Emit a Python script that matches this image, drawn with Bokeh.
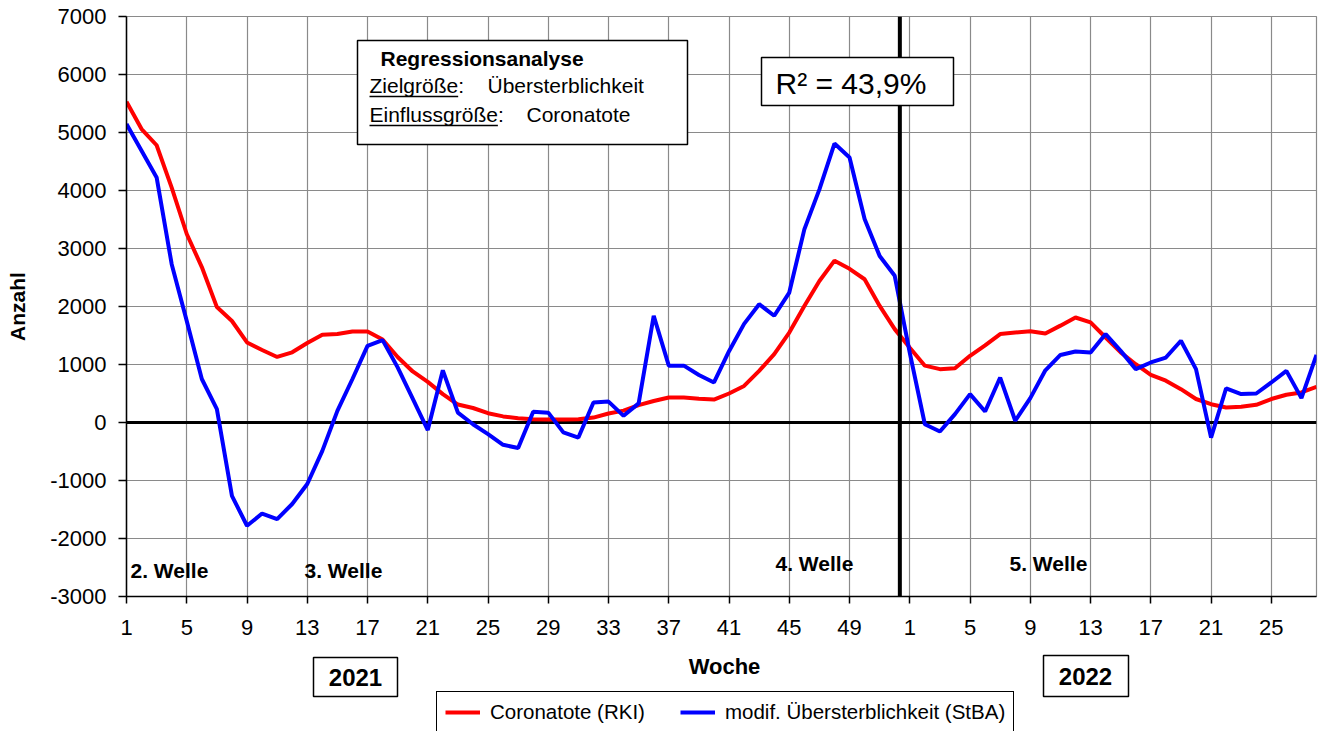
from bokeh.plotting import figure
from bokeh.layouts import column
from bokeh.models import (Range1d, FixedTicker, Span, Label, BoxAnnotation,
                          Legend, LegendItem)
from bokeh.embed import file_html
from bokeh.resources import INLINE

# ---------------- data ----------------
weeks_2021 = list(range(1, 53))
weeks_2022 = list(range(1, 29))
week_labels = [str(w) for w in weeks_2021 + weeks_2022]
index = list(range(1, len(week_labels) + 1))

coronatote = [
    5530, 5060, 4780, 4050, 3250, 2680, 1990, 1750, 1380, 1250,
    1130, 1210, 1370, 1515, 1525, 1570, 1570, 1430, 1130, 880,
    700, 490, 310, 250, 160, 105, 75, 55, 50, 50,
    58, 85, 155, 205, 300, 370, 430, 430, 410, 395,
    500, 630, 890, 1180, 1550, 2010, 2440, 2790, 2650, 2470,
    2010, 1610,
    1290, 980, 920, 935, 1150, 1330, 1525, 1550, 1575, 1535,
    1670, 1810, 1725, 1465, 1210, 1005, 820, 720, 575, 405,
    315, 260, 270, 305, 405, 478, 518, 615,
]
uebersterblichkeit = [
    5145, 4685, 4225, 2730, 1750, 750, 230, -1265, -1780, -1570,
    -1665, -1405, -1060, -490, 200, 750, 1320, 1420, 950, 410,
    -130, 900, 170, -30, -200, -385, -440, 185, 170, -170,
    -260, 345, 360, 115, 330, 1840, 980, 980, 820, 690,
    1230, 1700, 2040, 1840, 2240, 3330, 4020, 4810, 4570, 3510,
    2870, 2530,
    1200, -30, -155, 145, 490, 190, 775, 30, 420, 900,
    1165, 1225, 1205, 1525, 1235, 920, 1035, 1120, 1410, 920,
    -260, 590, 490, 500, 690, 890, 420, 1165,
]
y_ticks = list(range(-3000, 7001, 1000))
y_tick_labels = [str(v) for v in y_ticks]
x_tick_idx = [i for i, w in zip(index, week_labels) if (int(w) - 1) % 4 == 0]
year_divider = 52.34

series_names = ["Coronatote (RKI)", "modif. Übersterblichkeit (StBA)"]
wave_labels = ["2.  Welle", "3.  Welle", "4.  Welle", "5.  Welle"]
year_labels = ["2021", "2022"]

FONT = "Liberation Sans"
RED = "#ff0000"
BLUE = "#0000ff"
GRID = "#8a8a8a"

# ---------------- main figure ----------------
W = 1318
H1 = 648
FL, FT, FR, FB = 126, 16, 1316, 596  # frame edges in page px

p = figure(width=W, height=H1, x_range=Range1d(1, 80), y_range=Range1d(-3000, 7000),
           output_backend="svg", toolbar_location=None,
           min_border_left=FL, min_border_right=W - FR, min_border_top=FT,
           min_border_bottom=H1 - FB)
p.title.visible = False
p.background_fill_color = "white"
p.border_fill_color = "white"
p.outline_line_color = GRID
p.outline_line_width = 1.2

p.xaxis.ticker = FixedTicker(ticks=x_tick_idx)
p.xaxis.major_label_overrides = {i: week_labels[i - 1] for i in x_tick_idx}
p.yaxis.ticker = FixedTicker(ticks=y_ticks)
p.yaxis.major_label_overrides = {v: s for v, s in zip(y_ticks, y_tick_labels)}
for ax in (p.xaxis[0], p.yaxis[0]):
    ax.axis_line_color = "black"
    ax.axis_line_width = 1.5
    ax.major_tick_line_color = "black"
    ax.major_tick_line_width = 1.5
    ax.major_tick_in = 0
    ax.minor_tick_line_color = None
    ax.major_label_text_font = FONT
    ax.major_label_text_font_size = "22px"
    ax.major_label_text_color = "black"
    ax.axis_label_text_font = FONT
    ax.axis_label_text_font_style = "bold"
    ax.axis_label_text_color = "black"
p.xaxis.major_tick_out = 7
p.xaxis.major_label_standoff = 16
p.yaxis.major_tick_out = 8
p.yaxis.major_label_standoff = 12
p.yaxis.axis_label = "Anzahl"
p.yaxis.axis_label_text_font_size = "21px"
p.yaxis.axis_label_standoff = 18

p.xgrid.grid_line_color = GRID
p.xgrid.grid_line_width = 1.2
p.ygrid.grid_line_color = GRID
p.ygrid.grid_line_width = 1.2

p.add_layout(Span(location=0, dimension="width", line_color="black", line_width=3, level="underlay"))

p.line(index, coronatote, line_color=RED, line_width=4)
p.line(index, uebersterblichkeit, line_color=BLUE, line_width=4)

p.add_layout(Span(location=year_divider, dimension="height", line_color="black", line_width=4))


def sx(px):
    return px - FL


def sy(py):
    return FB - py


def box(fig, l, t, r, b, units, lw=1.5):
    fig.add_layout(BoxAnnotation(left=l, right=r, top=t, bottom=b,
                                 left_units=units, right_units=units,
                                 top_units=units, bottom_units=units,
                                 fill_color="white", fill_alpha=1.0,
                                 line_color="black", line_width=lw, line_alpha=1.0))


def label(fig, text, x, y, size, units, bold=False, align="left"):
    fig.add_layout(Label(x=x, y=y, x_units=units, y_units=units,
                         text=text, text_font=FONT, text_font_size=size,
                         text_font_style="bold" if bold else "normal",
                         text_color="black", text_baseline="middle", text_align=align))


def underline(px0, px1, py):
    p.add_layout(BoxAnnotation(left=sx(px0), right=sx(px1), top=sy(py) + 0.8, bottom=sy(py) - 0.8,
                               left_units="screen", right_units="screen",
                               top_units="screen", bottom_units="screen",
                               fill_color="black", fill_alpha=1.0, line_color=None))


S = "screen"
# Regression box
box(p, sx(357), sy(40), sx(687), sy(144), S)
label(p, "Regressionsanalyse", sx(380), sy(58), "21px", S, bold=True)
label(p, "Zielgröße:", sx(369), sy(85), "21px", S)
underline(369, 369 + 4.223 * 21, 96)
label(p, "Übersterblichkeit", sx(487), sy(85), "21px", S)
label(p, "Einflussgröße:", sx(369), sy(114), "21px", S)
underline(369, 369 + 6.113 * 21, 125)
label(p, "Coronatote", sx(526), sy(114), "21px", S)

# R² box
box(p, sx(761), sy(57), sx(953), sy(105), S)
label(p, "R² = 43,9%", sx(775), sy(83), "30px", S)

# wave labels
label(p, wave_labels[0], sx(130), sy(570), "21px", S, bold=True)
label(p, wave_labels[1], sx(304), sy(570), "21px", S, bold=True)
label(p, wave_labels[2], sx(775), sy(563), "21px", S, bold=True)
label(p, wave_labels[3], sx(1009), sy(563), "21px", S, bold=True)

# ---------------- bottom strip (axis title, year boxes, legend) ----------------
# its frame is aligned with the main frame (page x 126..1316), so data x == page x
H2 = 731 - H1
q = figure(width=W, height=H2, x_range=Range1d(FL, FR), y_range=Range1d(731, H1),
           output_backend="svg", toolbar_location=None,
           x_axis_location=None, y_axis_location=None,
           min_border_left=FL, min_border_right=W - FR, min_border_top=0, min_border_bottom=0)
q.title.visible = False
q.outline_line_color = None
q.xgrid.visible = False
q.ygrid.visible = False
q.background_fill_color = "white"
q.border_fill_color = "white"

D = "data"
label(q, "Woche", 724, 666, "22px", D, bold=True, align="center")

box(q, 313, 657, 397, 696, D)
label(q, year_labels[0], 355, 677, "24px", D, bold=True, align="center")
box(q, 1043, 655, 1128, 696, D)
label(q, year_labels[1], 1085, 676, "24px", D, bold=True, align="center")

nan = float("nan")
leg_red = q.line(x=[nan], y=[nan], line_color=RED, line_width=4)
leg_blue = q.line(x=[nan], y=[nan], line_color=BLUE, line_width=4)
legend = Legend(items=[LegendItem(label=series_names[0], renderers=[leg_red]),
                       LegendItem(label=series_names[1], renderers=[leg_blue])],
                orientation="horizontal", location=(436 - FL, 731 - (693 + 40)),
                border_line_color="black", border_line_width=1.5, border_line_alpha=1.0,
                background_fill_color="white", background_fill_alpha=1.0,
                label_text_font=FONT, label_text_font_size="20.5px", label_text_color="black",
                glyph_width=35, glyph_height=20, label_standoff=10, spacing=35, padding=8,
                margin=0)
q.add_layout(legend)

layout = column(p, q, spacing=0)
open("out.html", "w").write(file_html(layout, INLINE))
